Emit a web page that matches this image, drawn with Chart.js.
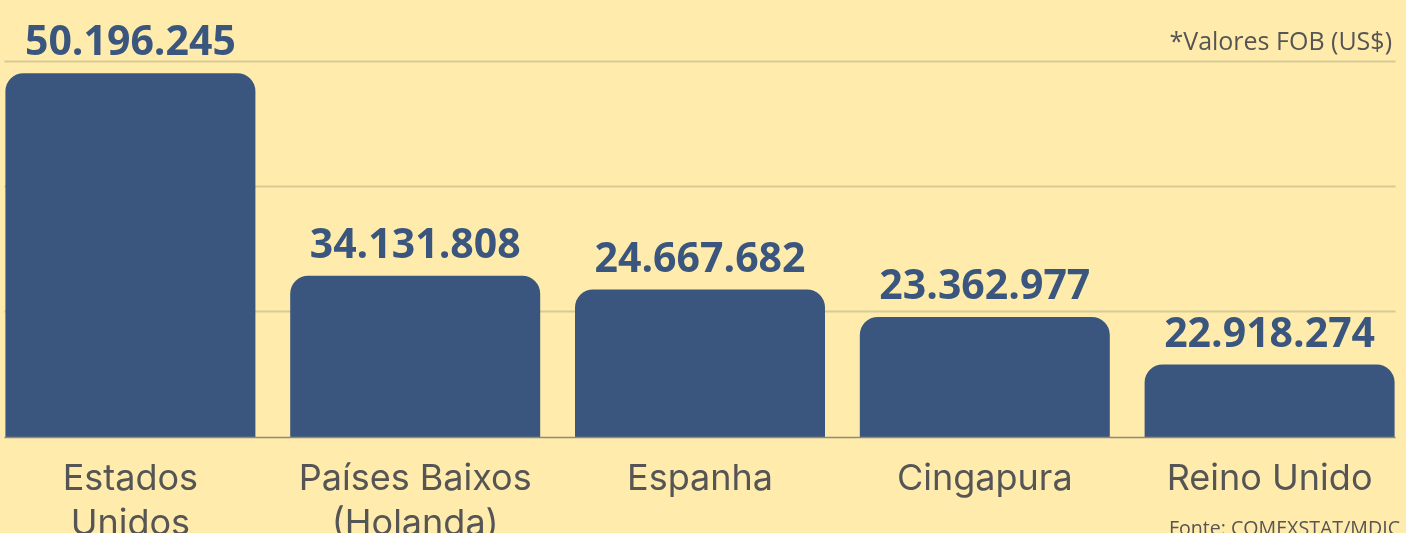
<!DOCTYPE html>
<html lang="pt-BR">
<head>
<meta charset="utf-8">
<script src="https://cdn.jsdelivr.net/npm/chart.js@4.4.1/dist/chart.umd.min.js"></script>
<style>
    html, body { margin: 0; padding: 0; background: #FFECAD; overflow: hidden; }
    #wrap { position: relative; width: 1406px; height: 533px; overflow: hidden; background: #FFECAD; }
    #myChart { position: absolute; left: -12px; top: 0; }
    .nota { position: absolute; font-family: 'Open Sans', sans-serif; color: #555555; white-space: nowrap; }
    #unidade { right: 14px; top: 28px; font-size: 25px; line-height: 25px; }
    #fonte { right: 6px; top: 518px; font-size: 19.6px; line-height: 20px; }
</style>
</head>
<body>
<div id="wrap">
    <canvas id="myChart" width="1424" height="567"></canvas>
    <div class="nota" id="unidade">*Valores FOB (US$)</div>
    <div class="nota" id="fonte">Fonte: COMEXSTAT/MDIC</div>
</div>
<script>
// Países de destino (rótulos do eixo x)
const paises = [['Estados', 'Unidos'], ['Países Baixos', '(Holanda)'], 'Espanha', 'Cingapura', 'Reino Unido'];
// Valores FOB em US$ escritos sobre as barras
const valoresFOB = [50196245, 34131808, 24667682, 23362977, 22918274];
// Altura das barras como desenhadas no original (não proporcional aos valores),
// em unidades das linhas de grade
const alturaBarras = [2.91, 1.29, 1.18, 0.96, 0.58];
// Linhas de grade horizontais
const linhasGrade = [0, 1, 2, 3];

const azul = '#3A567E';

function formatarBR(n) {
    return String(n).replace(/\B(?=(\d{3})+(?!\d))/g, '.');
}

// Linhas de grade e linha de base, só da primeira à última barra
const gradePlugin = {
    id: 'grade',
    beforeDatasetsDraw(chart) {
        const ctx = chart.ctx;
        const y = chart.scales.y;
        const barras = chart.getDatasetMeta(0).data;
        const x0 = barras[0].x - barras[0].width / 2 - 1;
        const x1 = barras[barras.length - 1].x + barras[barras.length - 1].width / 2 + 1;
        ctx.save();
        ctx.strokeStyle = '#D8C995';
        ctx.lineWidth = 2;
        linhasGrade.slice(1).forEach(v => {
            const py = Math.round(y.getPixelForValue(v)) - 0.5;
            ctx.beginPath();
            ctx.moveTo(x0, py);
            ctx.lineTo(x1, py);
            ctx.stroke();
        });
        ctx.restore();
    },
    afterDatasetsDraw(chart) {
        const ctx = chart.ctx;
        const y = chart.scales.y;
        const barras = chart.getDatasetMeta(0).data;
        const x0 = barras[0].x - barras[0].width / 2 - 1;
        const x1 = barras[barras.length - 1].x + barras[barras.length - 1].width / 2 + 1;
        ctx.save();
        ctx.strokeStyle = '#8E8B7A';
        ctx.lineWidth = 1.5;
        const py = y.getPixelForValue(0) + 0.5;
        ctx.beginPath();
        ctx.moveTo(x0, py);
        ctx.lineTo(x1, py);
        ctx.stroke();

        // rótulos de valor acima das barras
        ctx.fillStyle = azul;
        ctx.font = 'bold 41px "Open Sans", sans-serif';
        ctx.textAlign = 'center';
        ctx.textBaseline = 'alphabetic';
        barras.forEach((bar, i) => {
            ctx.fillText(formatarBR(valoresFOB[i]), bar.x, bar.y - 18);
        });
        ctx.restore();
    }
};

const ctx = document.getElementById('myChart').getContext('2d');
const myChart = new Chart(ctx, {
    type: 'bar',
    data: {
        labels: paises,
        datasets: [{
            label: 'Exportações',
            data: alturaBarras,
            backgroundColor: azul,
            borderRadius: 18,
            borderSkipped: 'start',
            categoryPercentage: 1,
            barPercentage: 250 / 284.8
        }]
    },
    options: {
        responsive: false,
        animation: false,
        layout: { padding: { top: 62, left: 0, right: 0, bottom: 0 } },
        plugins: {
            legend: { display: false },
            tooltip: { enabled: false }
        },
        scales: {
            x: {
                grid: { display: false, drawTicks: false },
                border: { display: false },
                ticks: {
                    color: '#555555',
                    padding: 20,
                    maxRotation: 0,
                    autoSkip: false,
                    font: { family: 'Inter', size: 36, lineHeight: 1.25 }
                }
            },
            y: {
                display: false,
                min: 0,
                max: 3,
                ticks: { stepSize: 1 }
            }
        }
    },
    plugins: [gradePlugin]
});
</script>
</body>
</html>
